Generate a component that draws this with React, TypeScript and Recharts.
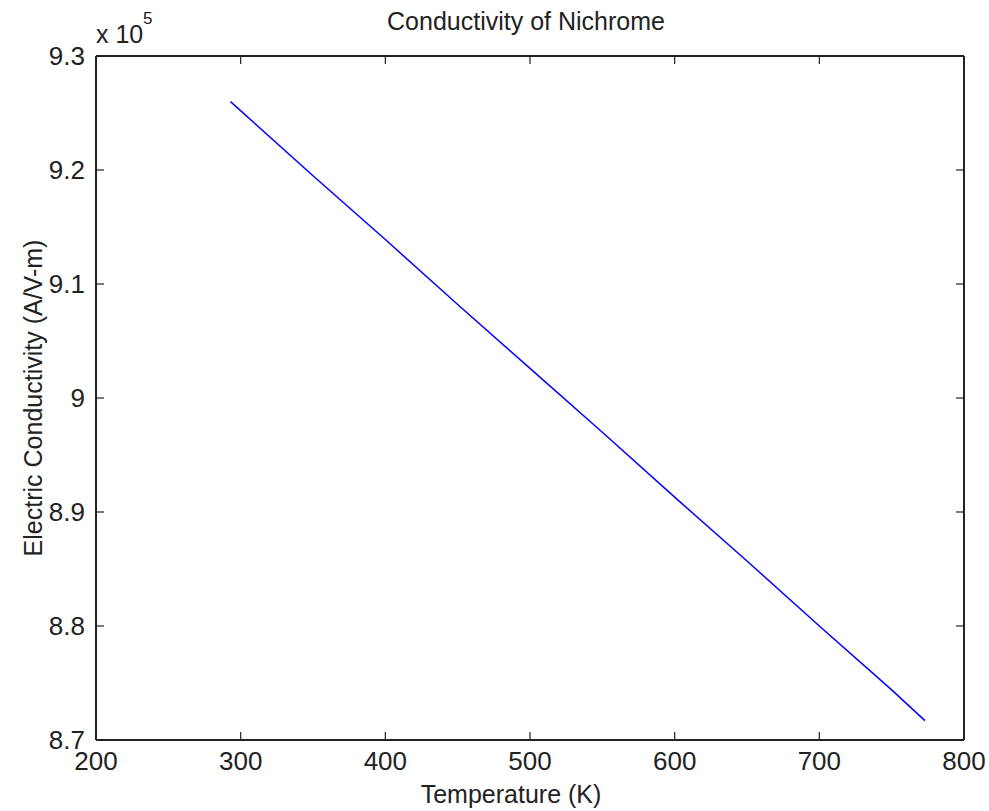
import { LineChart, Line, XAxis, YAxis, Label } from 'recharts';

// temperature (K) and conductivity (A/V-m)
const temperatures = [293, 350, 400, 450, 500, 550, 600, 650, 700, 750, 773];
const conductivity = [926000, 919500, 913900, 908200, 902600, 897000, 891300, 885700, 880000, 874400, 871700];

const xTicks = [200, 300, 400, 500, 600, 700, 800];
const yTicks = [870000, 880000, 890000, 900000, 910000, 920000, 930000];

const data = temperatures.map((t, i) => ({ t, sigma: conductivity[i] }));

const FONT = "'Liberation Sans', Arial, sans-serif";
const INK = '#222';

const fmtY = (v: number) => {
  const s = (v / 1e5).toFixed(1);
  return s.endsWith('.0') ? s.slice(0, -2) : s;
};
const blank = () => '';

const YTitle = (props: any) => {
  const { viewBox } = props;
  const cy = viewBox.y + viewBox.height / 2;
  return (
    <text
      x={42}
      y={cy}
      transform={`rotate(-90, 42, ${cy})`}
      textAnchor="middle"
      fill={INK}
      fontSize={25}
      fontFamily={FONT}
    >
      Electric Conductivity (A/V-m)
    </text>
  );
};

const XTitle = (props: any) => {
  const { viewBox } = props;
  return (
    <text
      x={viewBox.x + viewBox.width / 2 - 19}
      y={803}
      textAnchor="middle"
      fill={INK}
      fontSize={25}
      fontFamily={FONT}
    >
      Temperature (K)
    </text>
  );
};

export default function App() {
  const axisLine = { stroke: INK, strokeWidth: 2 };
  const tickLine = { stroke: INK, strokeWidth: 1.2 };
  const tickStyle = { fill: INK, fontSize: 26, fontFamily: FONT };

  return (
    <div style={{ position: 'absolute', left: 0, top: 0, width: 989, height: 811, background: '#fff' }}>
      <LineChart width={989} height={811} data={data} margin={{ top: 56, right: 25, bottom: 0, left: 0 }}>
        {/* labelled bottom axis */}
        <XAxis
          xAxisId="b"
          dataKey="t"
          type="number"
          domain={[200, 800]}
          allowDataOverflow
          ticks={xTicks}
          interval={0}
          height={71}
          tickSize={0}
          tickMargin={12}
          axisLine={axisLine}
          tickLine={false}
          tick={tickStyle}
        >
          <Label content={<XTitle />} />
        </XAxis>
        {/* inward tick marks, bottom and top */}
        <XAxis
          xAxisId="bm"
          dataKey="t"
          orientation="bottom"
          mirror
          type="number"
          domain={[200, 800]}
          allowDataOverflow
          ticks={xTicks}
          interval={0}
          height={30}
          tickSize={8}
          tickFormatter={blank}
          axisLine={false}
          tickLine={tickLine}
        />
        <XAxis
          xAxisId="t"
          dataKey="t"
          orientation="top"
          mirror
          type="number"
          domain={[200, 800]}
          allowDataOverflow
          ticks={xTicks}
          interval={0}
          height={30}
          tickSize={8}
          tickFormatter={blank}
          axisLine={axisLine}
          tickLine={tickLine}
        />
        {/* labelled left axis */}
        <YAxis
          yAxisId="l"
          type="number"
          domain={[870000, 930000]}
          allowDataOverflow
          ticks={yTicks}
          interval={0}
          width={96}
          tickSize={0}
          tickMargin={11}
          tickFormatter={fmtY}
          axisLine={axisLine}
          tickLine={false}
          tick={tickStyle}
        >
          <Label content={<YTitle />} />
        </YAxis>
        {/* inward tick marks, left and right */}
        <YAxis
          yAxisId="lm"
          dataKey="sigma"
          mirror
          type="number"
          domain={[870000, 930000]}
          allowDataOverflow
          ticks={yTicks}
          interval={0}
          width={30}
          tickSize={8}
          tickFormatter={blank}
          axisLine={false}
          tickLine={tickLine}
        />
        <YAxis
          yAxisId="r"
          dataKey="sigma"
          orientation="right"
          mirror
          type="number"
          domain={[870000, 930000]}
          allowDataOverflow
          ticks={yTicks}
          interval={0}
          width={30}
          tickSize={8}
          tickFormatter={blank}
          axisLine={axisLine}
          tickLine={tickLine}
        />
        <Line
          xAxisId="b"
          yAxisId="l"
          dataKey="sigma"
          type="linear"
          stroke="#0000ff"
          strokeWidth={1.5}
          dot={false}
          isAnimationActive={false}
        />
      </LineChart>
      <svg
        width={989}
        height={811}
        style={{ position: 'absolute', left: 0, top: 0, pointerEvents: 'none' }}
      >
        <text x={526} y={30} textAnchor="middle" fill={INK} fontSize={25} fontFamily={FONT}>
          Conductivity of Nichrome
        </text>
        <text x={96} y={43} fill={INK} fontSize={25} fontFamily={FONT}>
          x 10
        </text>
        <text x={143} y={24} fill={INK} fontSize={17} fontFamily={FONT}>
          5
        </text>
      </svg>
    </div>
  );
}
